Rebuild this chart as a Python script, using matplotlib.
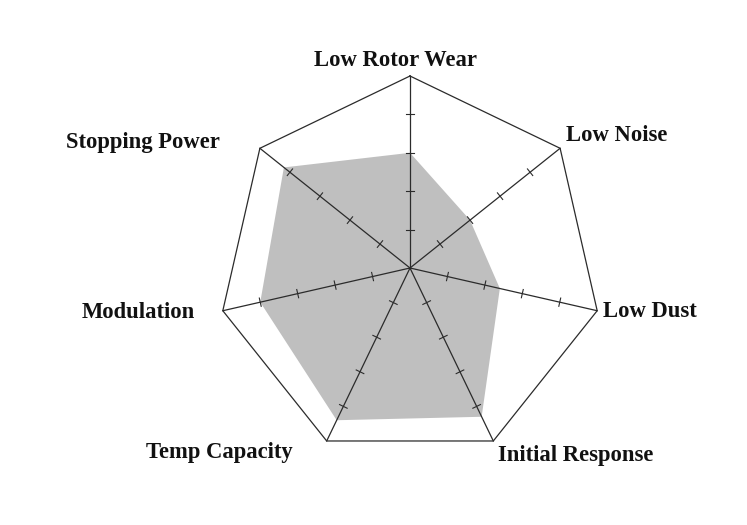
import numpy as np
import matplotlib.pyplot as plt

# brake pad ratings, 0-5 scale, clockwise from the top
categories = ["Low Rotor Wear", "Low Noise", "Low Dust", "Initial Response",
              "Temp Capacity", "Modulation", "Stopping Power"]
scores = [3.0, 2.0, 2.4, 4.3, 4.4, 4.0, 4.2]
scale_max = 5
tick_levels = [1, 2, 3, 4]

# label placement relative to the outer vertex (pixels) and alignment
label_offsets = [(-15, 15), (6, 13), (6, -1), (5, -15), (-34, -12), (-28, -2), (-40, 6)]
label_ha = ["center", "left", "left", "left", "right", "right", "right"]

W, H, DPI = 747, 525, 100
cx, cy, R = 410, 268, 192
fig = plt.figure(figsize=(W / DPI, H / DPI), dpi=DPI)
ax = fig.add_axes([(cx - R) / W, (H - cy - R) / H, 2 * R / W, 2 * R / H],
                  projection="polar")
ax.set_theta_offset(np.pi / 2)
ax.set_theta_direction(-1)
ax.set_ylim(0, scale_max)
ax.axis("off")

n = len(categories)
angles = np.linspace(0, 2 * np.pi, n, endpoint=False)
closed = np.append(angles, angles[0])
line_col = "#2b2b2b"

# filled area
ax.fill(closed, scores + scores[:1], color="#bfbfbf", lw=0, zorder=1)

# outer heptagon
ax.plot(closed, [scale_max] * (n + 1), color=line_col, lw=0.9, zorder=2, clip_on=False)

# spokes and tick marks
h = 0.11
for a in angles:
    ax.plot([a, a], [0, scale_max], color=line_col, lw=0.9, zorder=2, clip_on=False)
    for r in tick_levels:
        dt = np.arctan(h / r)
        rr = np.hypot(r, h)
        ax.plot([a - dt, a + dt], [rr, rr], color=line_col, lw=0.8, zorder=2)

# axis labels
for a, name, off, ha in zip(angles, categories, label_offsets, label_ha):
    ax.annotate(name, xy=(a, scale_max), xytext=off, textcoords="offset pixels",
                ha=ha, va="center", fontsize=16.3, fontweight="bold",
                family="Liberation Serif", color="#111111", annotation_clip=False)

fig.savefig("out.png", dpi=DPI, facecolor="white")
